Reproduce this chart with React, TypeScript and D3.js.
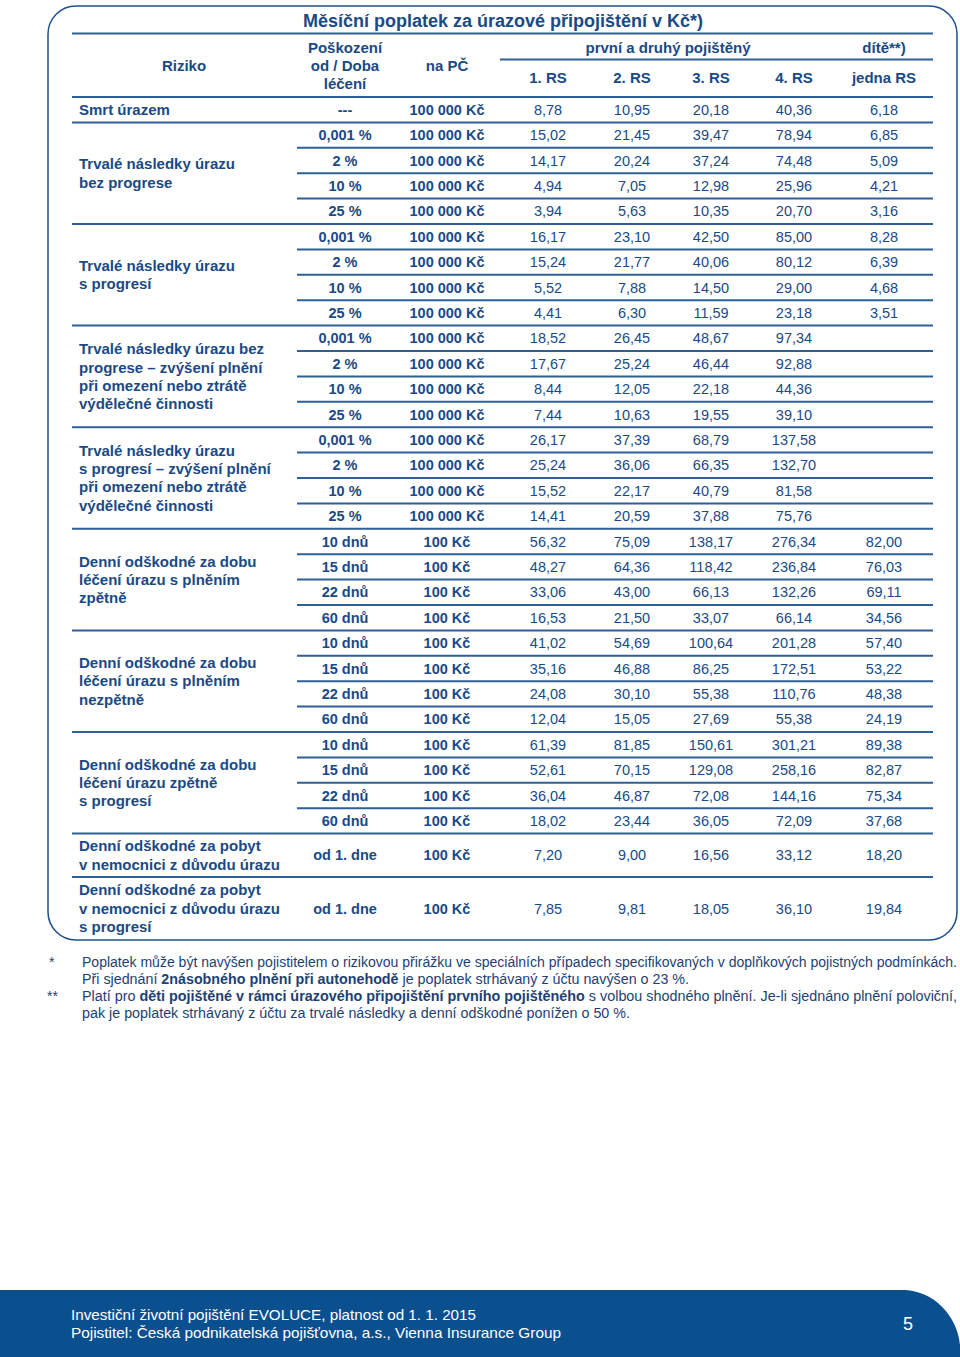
import React from "react";
import * as d3 from "d3";

// Column headings
const tableTitle = "Měsíční poplatek za úrazové připojištění v Kč*)";
const rsColumns = ["1. RS", "2. RS", "3. RS", "4. RS", "jedna RS"];

// Risk groups (label lines) and how many rows each group spans
const riskLabels = [
  ["Smrt úrazem"],
  ["Trvalé následky úrazu", "bez progrese"],
  ["Trvalé následky úrazu", "s progresí"],
  ["Trvalé následky úrazu bez", "progrese – zvýšení plnění", "při omezení nebo ztrátě", "výdělečné činnosti"],
  ["Trvalé následky úrazu", "s progresí – zvýšení plnění", "při omezení nebo ztrátě", "výdělečné činnosti"],
  ["Denní odškodné za dobu", "léčení úrazu s plněním", "zpětně"],
  ["Denní odškodné za dobu", "léčení úrazu s plněním", "nezpětně"],
  ["Denní odškodné za dobu", "léčení úrazu zpětně", "s progresí"],
  ["Denní odškodné za pobyt", "v nemocnici z důvodu úrazu"],
  ["Denní odškodné za pobyt", "v nemocnici z důvodu úrazu", "s progresí"],
];
const groupSizes = [1, 4, 4, 4, 4, 4, 4, 4, 1, 1];

// Row values
const thresholds = [
  "---",
  "0,001 %", "2 %", "10 %", "25 %",
  "0,001 %", "2 %", "10 %", "25 %",
  "0,001 %", "2 %", "10 %", "25 %",
  "0,001 %", "2 %", "10 %", "25 %",
  "10 dnů", "15 dnů", "22 dnů", "60 dnů",
  "10 dnů", "15 dnů", "22 dnů", "60 dnů",
  "10 dnů", "15 dnů", "22 dnů", "60 dnů",
  "od 1. dne", "od 1. dne",
];
const sumInsured = [
  100000, 100000, 100000, 100000, 100000, 100000, 100000, 100000, 100000,
  100000, 100000, 100000, 100000, 100000, 100000, 100000, 100000,
  100, 100, 100, 100, 100, 100, 100, 100, 100, 100, 100, 100, 100, 100,
];
const rs1 = [8.78, 15.02, 14.17, 4.94, 3.94, 16.17, 15.24, 5.52, 4.41, 18.52, 17.67, 8.44, 7.44, 26.17, 25.24, 15.52, 14.41, 56.32, 48.27, 33.06, 16.53, 41.02, 35.16, 24.08, 12.04, 61.39, 52.61, 36.04, 18.02, 7.2, 7.85];
const rs2 = [10.95, 21.45, 20.24, 7.05, 5.63, 23.1, 21.77, 7.88, 6.3, 26.45, 25.24, 12.05, 10.63, 37.39, 36.06, 22.17, 20.59, 75.09, 64.36, 43.0, 21.5, 54.69, 46.88, 30.1, 15.05, 81.85, 70.15, 46.87, 23.44, 9.0, 9.81];
const rs3 = [20.18, 39.47, 37.24, 12.98, 10.35, 42.5, 40.06, 14.5, 11.59, 48.67, 46.44, 22.18, 19.55, 68.79, 66.35, 40.79, 37.88, 138.17, 118.42, 66.13, 33.07, 100.64, 86.25, 55.38, 27.69, 150.61, 129.08, 72.08, 36.05, 16.56, 18.05];
const rs4 = [40.36, 78.94, 74.48, 25.96, 20.7, 85.0, 80.12, 29.0, 23.18, 97.34, 92.88, 44.36, 39.1, 137.58, 132.7, 81.58, 75.76, 276.34, 236.84, 132.26, 66.14, 201.28, 172.51, 110.76, 55.38, 301.21, 258.16, 144.16, 72.09, 33.12, 36.1];
const child = [6.18, 6.85, 5.09, 4.21, 3.16, 8.28, 6.39, 4.68, 3.51, null, null, null, null, null, null, null, null, 82.0, 76.03, 69.11, 34.56, 57.4, 53.22, 48.38, 24.19, 89.38, 82.87, 75.34, 37.68, 18.2, 19.84];

const footerLines = [
  "Investiční životní pojištění EVOLUCE, platnost od 1. 1. 2015",
  "Pojistitel: Česká podnikatelská pojišťovna, a.s., Vienna Insurance Group",
];
const pageNumber = "5";

const cz = d3.formatLocale({ decimal: ",", thousands: "\u00a0", grouping: [3], currency: ["", " Kč"] });
const fmtValue = cz.format(",.2f");
const fmtSum = (v) => cz.format(",d")(v) + " Kč";

const TEXT = "#1a4a86";
const LINE = "#2e5f95";
const FONT = "'Liberation Sans', Arial, Helvetica, sans-serif";
const NARROW = "'Liberation Sans Narrow', 'Liberation Sans', Arial, sans-serif";

export default function App() {
  const width = 960;
  const height = 1357;
  const left = 72;
  const subLeft = 297;
  const right = 933;
  const headerBottom = 97;
  const rowH = 25.4;

  const seriesByColumn = [rs1, rs2, rs3, rs4, child];
  const colX = d3.scaleOrdinal<string, number>().domain(rsColumns).range([548, 632, 711, 794, 884]);
  const threshX = 345;
  const sumX = 447;

  // row heights: standard rows, plus the two taller hospital rows
  const rowHeights = thresholds.map((_, i) => (i === 29 ? 43.4 : i === 30 ? 63 : rowH));
  const rowTops = [headerBottom, ...Array.from(d3.cumsum(rowHeights)).map((c) => headerBottom + c)];
  const rowY = (i) => (rowTops[i] + rowTops[i + 1]) / 2;

  const groupEnds = Array.from(d3.cumsum(groupSizes)); // exclusive end row index
  const groupStarts = groupEnds.map((e, i) => e - groupSizes[i]);
  const lineH = 18.3;

  return (
    <svg width={width} height={height} style={{ position: "absolute", left: 0, top: 0, background: "#fff" }} fontFamily={FONT}>
      {/* outer frame */}
      <rect x={48} y={6} width={909} height={934} rx={28} ry={28} fill="none" stroke="#1f4f8a" strokeWidth={1.5} />

      {/* title */}
      <text x={503} y={21} textAnchor="middle" dy="0.35em" fontSize={18} fontWeight="bold" fill={TEXT}>
        {tableTitle}
      </text>
      <line x1={left} x2={right} y1={33.5} y2={33.5} stroke={LINE} strokeWidth={2} />
      <line x1={500} x2={right} y1={59.5} y2={59.5} stroke={LINE} strokeWidth={2} />
      <line x1={left} x2={right} y1={headerBottom} y2={headerBottom} stroke={LINE} strokeWidth={2} />

      {/* header */}
      <g fontSize={15} fontWeight="bold" fill={TEXT} textAnchor="middle">
        <text x={184} y={66} dy="0.35em">Riziko</text>
        {["Poškození", "od / Doba", "léčení"].map((t, i) => (
          <text key={t} x={threshX} y={48 + i * 18} dy="0.35em">{t}</text>
        ))}
        <text x={sumX} y={66} dy="0.35em">na PČ</text>
        <text x={668} y={48} dy="0.35em">první a druhý pojištěný</text>
        <text x={884} y={48} dy="0.35em">dítě**)</text>
        {rsColumns.map((c) => (
          <text key={c} x={colX(c)} y={78} dy="0.35em">{c}</text>
        ))}
      </g>

      {/* row separators */}
      {thresholds.slice(0, -1).map((_, i) => {
        const full = groupEnds.includes(i + 1);
        return (
          <line key={"sep" + i} x1={full ? left : subLeft} x2={right} y1={rowTops[i + 1]} y2={rowTops[i + 1]} stroke={LINE} strokeWidth={2} />
        );
      })}

      {/* risk labels */}
      {riskLabels.map((lines, g) => {
        const cy = (rowTops[groupStarts[g]] + rowTops[groupEnds[g]]) / 2;
        const y0 = cy - ((lines.length - 1) * lineH) / 2;
        return lines.map((t, k) => (
          <text key={g + "-" + k} x={79} y={y0 + k * lineH} dy="0.35em" fontSize={15} fontWeight="bold" fill={TEXT}>
            {t}
          </text>
        ));
      })}

      {/* rows */}
      {thresholds.map((t, i) => (
        <g key={"row" + i} fill={TEXT} textAnchor="middle">
          <text x={threshX} y={rowY(i)} dy="0.35em" fontSize={14.5} fontWeight="bold">{t}</text>
          <text x={sumX} y={rowY(i)} dy="0.35em" fontSize={14.5} fontWeight="bold">{fmtSum(sumInsured[i])}</text>
          {rsColumns.map((c, j) =>
            seriesByColumn[j][i] == null ? null : (
              <text key={c} x={colX(c)} y={rowY(i)} dy="0.35em" fontSize={14.5}>
                {fmtValue(seriesByColumn[j][i])}
              </text>
            )
          )}
        </g>
      ))}

      {/* footnotes */}
      <g fontFamily={NARROW} fontSize={14} fill="#1d3f73">
        <text x={49} y={962} dy="0.35em">*</text>
        <text x={82} y={962} dy="0.35em" textLength={875} lengthAdjust="spacingAndGlyphs">
          Poplatek může být navýšen pojistitelem o rizikovou přirážku ve speciálních případech specifikovaných v doplňkových pojistných podmínkách.
        </text>
        <text x={82} y={979} dy="0.35em" textLength={607} lengthAdjust="spacingAndGlyphs">
          Při sjednání <tspan fontWeight="bold">2násobného plnění při autonehodě</tspan> je poplatek strhávaný z účtu navýšen o 23 %.
        </text>
        <text x={47} y={996} dy="0.35em">**</text>
        <text x={82} y={996} dy="0.35em" textLength={875} lengthAdjust="spacingAndGlyphs">
          Platí pro <tspan fontWeight="bold">děti pojištěné v rámci úrazového připojištění prvního pojištěného</tspan> s volbou shodného plnění. Je-li sjednáno plnění poloviční,
        </text>
        <text x={82} y={1013} dy="0.35em" textLength={548} lengthAdjust="spacingAndGlyphs">
          pak je poplatek strhávaný z účtu za trvalé následky a denní odškodné ponížen o 50 %.
        </text>
      </g>

      {/* footer band */}
      <path d="M0,1290 H905 A58,62 0 0 1 960,1345 V1357 H0 Z" fill="#0a4f8e" />
      <g fontFamily={NARROW} fontSize={15} fill="#fff">
        <text x={71} y={1315} dy="0.35em" textLength={405} lengthAdjust="spacingAndGlyphs">{footerLines[0]}</text>
        <text x={71} y={1333} dy="0.35em" textLength={490} lengthAdjust="spacingAndGlyphs">{footerLines[1]}</text>
        <text x={908} y={1324} dy="0.35em" textAnchor="middle" fontSize={18}>{pageNumber}</text>
      </g>
    </svg>
  );
}
